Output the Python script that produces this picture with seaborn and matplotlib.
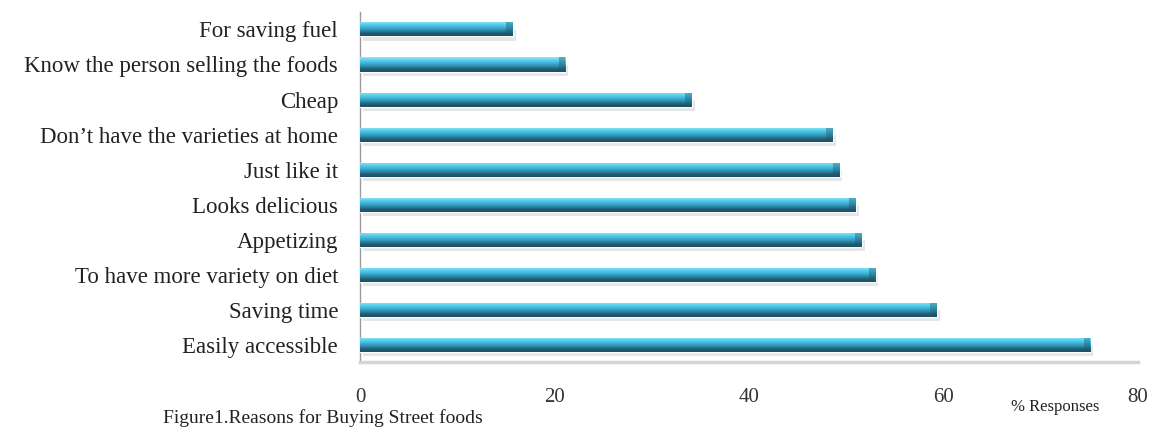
import matplotlib
matplotlib.use("Agg")
import matplotlib.pyplot as plt
from matplotlib.colors import LinearSegmentedColormap
from matplotlib.patches import Rectangle
import numpy as np
import pandas as pd
import seaborn as sns

reasons = ["For saving fuel", "Know the person selling the foods", "Cheap",
           "Don\u2019t have the varieties at home", "Just like it", "Looks delicious",
           "Appetizing", "To have more variety on diet", "Saving time", "Easily accessible"]
responses = [15.7, 21.1, 34.1, 48.6, 49.3, 51.0, 51.6, 53.0, 59.3, 75.1]
xticks = [0, 20, 40, 60, 80]

df = pd.DataFrame({"reason": reasons, "pct": responses})

sns.set_style("white")
plt.rcParams["font.family"] = ["Liberation Serif", "DejaVu Serif"]

fig = plt.figure(figsize=(11.66, 4.28), dpi=100)
ax = fig.add_axes([0.309, 0.154, 0.667, 0.818])

sns.barplot(data=df, x="pct", y="reason", order=reasons, orient="h",
            color="#3aa6c8", width=0.4, ax=ax, zorder=3)

# cylinder look: vertical gradient clipped to every bar + soft shadow below
grad = LinearSegmentedColormap.from_list(
    "cyl", ["#8fe6f8", "#5cd2ef", "#3fb4d6", "#2f8fb0", "#1f6078", "#1a4f63"])
g = np.linspace(0, 1, 64).reshape(-1, 1)
ylim = ax.get_ylim()
for p in ax.patches[:len(reasons)]:
    x0, y0 = p.get_x(), p.get_y()
    w, h = p.get_width(), p.get_height()
    sh = Rectangle((x0 + 0.3, y0 + h * 0.55), w, h * 0.75, color="#c8c8c8",
                   alpha=0.45, lw=0, zorder=2)
    ax.add_patch(sh)
    im = ax.imshow(g, cmap=grad, aspect="auto", origin="upper",
                   extent=(x0, x0 + w, y0 + h, y0), zorder=4)
    im.set_clip_path(p)
    cap = Rectangle((x0 + w - 0.7, y0), 0.7, h, color="#1d566b", alpha=0.4,
                    lw=0, zorder=5)
    ax.add_patch(cap)
ax.set_xlim(0, 80)
ax.set_ylim(ylim)

sns.despine(ax=ax, top=True, right=True)
ax.spines["left"].set_color("#9a9a9a")
ax.spines["left"].set_linewidth(1.0)
ax.spines["bottom"].set_color("#d4d4d4")
ax.spines["bottom"].set_linewidth(2.5)
ax.spines["bottom"].set_bounds(0, 80)

ax.set_xticks(xticks)
ax.tick_params(axis="x", length=0, pad=19, labelsize=15, colors="#333333")
ax.tick_params(axis="y", length=0, pad=16, labelsize=16.5, colors="#222222")
ax.set_xlabel("")
ax.set_ylabel("")

fig.text(0.277, 0.003, "Figure1.Reasons for Buying Street foods", ha="center",
         va="bottom", fontsize=14, color="#222222")
fig.text(0.905, 0.03, "% Responses", ha="center", va="bottom", fontsize=12,
         color="#222222")

fig.savefig("out.png", dpi=100)
